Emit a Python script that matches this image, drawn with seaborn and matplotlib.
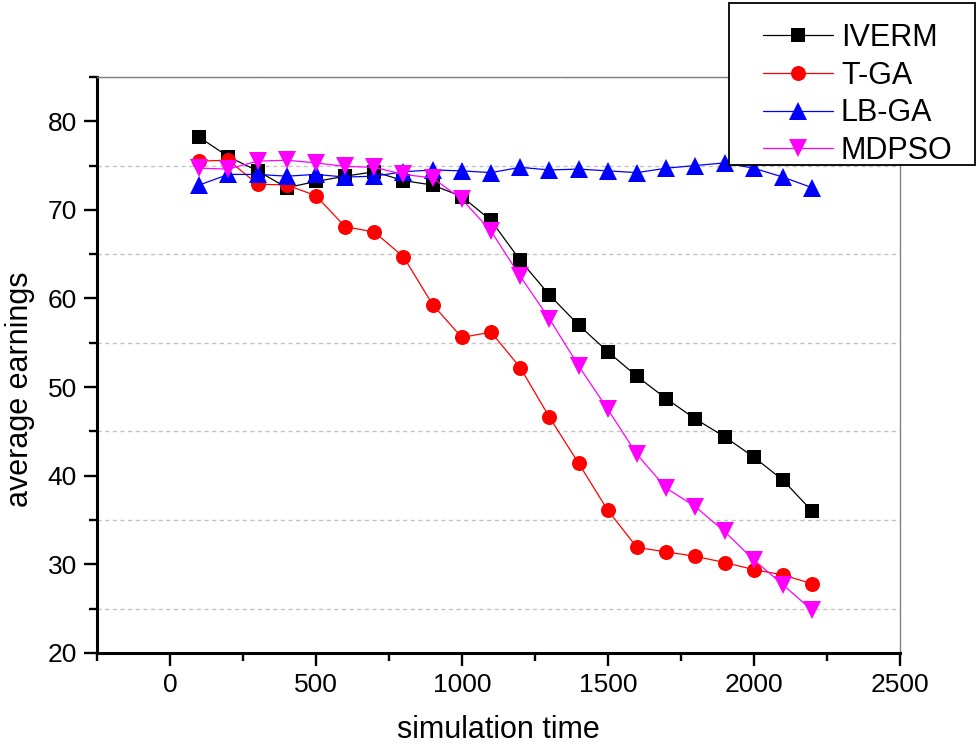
import numpy as np
import pandas as pd
import matplotlib
matplotlib.use('Agg')
import matplotlib.pyplot as plt
from matplotlib.patches import Rectangle
from matplotlib.ticker import MultipleLocator, FixedLocator
import seaborn as sns

# data
sim_time = [100, 200, 300, 400, 500, 600, 700, 800, 900, 1000, 1100,
            1200, 1300, 1400, 1500, 1600, 1700, 1800, 1900, 2000, 2100, 2200]

iverm = [78.2, 76.0, 74.4, 72.5, 73.2, 73.8, 74.3, 73.3, 72.8, 71.5, 68.8,
         64.3, 60.4, 57.0, 54.0, 51.2, 48.7, 46.4, 44.4, 42.1, 39.5, 36.0]
t_ga = [75.5, 75.6, 72.9, 72.8, 71.6, 68.1, 67.5, 64.7, 59.3, 55.6, 56.2,
        52.2, 46.6, 41.4, 36.1, 31.9, 31.4, 30.9, 30.2, 29.4, 28.8, 27.8]
lb_ga = [72.8, 74.0, 74.0, 73.8, 74.0, 73.7, 73.8, 74.3, 74.5, 74.4, 74.2,
         74.8, 74.5, 74.6, 74.4, 74.2, 74.7, 75.0, 75.3, 74.7, 73.7, 72.5]
mdpso = [74.7, 74.6, 75.5, 75.6, 75.3, 74.9, 74.8, 74.0, 73.6, 71.2, 67.6,
         62.5, 57.7, 52.4, 47.5, 42.4, 38.6, 36.5, 33.7, 30.5, 27.7, 24.8]

names = ['IVERM', 'T-GA', 'LB-GA', 'MDPSO']
colors = {'IVERM': 'black', 'T-GA': 'red', 'LB-GA': 'blue', 'MDPSO': 'magenta'}
markers = {'IVERM': 's', 'T-GA': 'o', 'LB-GA': '^', 'MDPSO': 'v'}
sizes = {'IVERM': 10.5, 'T-GA': 10.8, 'LB-GA': 13, 'MDPSO': 13}

df = pd.DataFrame({
    'time': sim_time * 4,
    'earn': iverm + t_ga + lb_ga + mdpso,
    'method': np.repeat(names, len(sim_time)),
})

sns.set_style('white')
plt.rcParams['font.family'] = ['Liberation Sans', 'DejaVu Sans']
plt.rcParams['text.color'] = 'black'
plt.rcParams['axes.labelcolor'] = 'black'
plt.rcParams['xtick.color'] = 'black'
plt.rcParams['ytick.color'] = 'black'

fig = plt.figure(figsize=(9.8, 7.47), dpi=100)
ax = fig.add_axes([0.099, 0.126, 0.819, 0.771])

for name in names:
    sub = df[df['method'] == name]
    sns.lineplot(data=sub, x='time', y='earn', ax=ax, color=colors[name],
                 marker=markers[name], markersize=sizes[name],
                 markeredgewidth=0, linewidth=0.9, label=name)

ax.set_xlim(-250, 2500)
ax.set_ylim(20, 85)
ax.xaxis.set_major_locator(MultipleLocator(500))
ax.xaxis.set_minor_locator(MultipleLocator(250))
ax.yaxis.set_major_locator(MultipleLocator(10))
ax.yaxis.set_minor_locator(FixedLocator([25, 35, 45, 55, 65, 75, 85]))

ax.tick_params(axis='both', which='major', direction='out', length=9.5, width=1.7,
               labelsize=19, colors='black', bottom=True, left=True, pad=5)
ax.tick_params(axis='both', which='minor', direction='out', length=5.5, width=1.7,
               colors='black', bottom=True, left=True)

ax.grid(False)
ax.yaxis.grid(True, which='minor', linestyle=(0, (3, 2.5)), color='#c4c4c4', linewidth=1)

for side in ['left', 'bottom']:
    ax.spines[side].set_color('black')
    ax.spines[side].set_linewidth(2.2)
for side in ['top', 'right']:
    ax.spines[side].set_color('#808080')
    ax.spines[side].set_linewidth(1)

ax.set_xlabel('simulation time', fontsize=22, labelpad=13)
ax.set_ylabel('average earnings', fontsize=22)
ax.yaxis.set_label_coords(-0.0775, 0.457)

# legend: frame drawn separately, entries placed inside it
handles, labels = ax.get_legend_handles_labels()
ax.legend().remove()
fig.patches.append(Rectangle((729 / 980, 1 - 165 / 747), 246 / 980, 162 / 747,
                             transform=fig.transFigure, facecolor='white',
                             edgecolor='black', linewidth=1.3, zorder=5))
leg = fig.legend(handles, labels, loc='upper left',
                 bbox_to_anchor=(763 / 980, 1 - 23 / 747), borderaxespad=0,
                 borderpad=0, fontsize=22, frameon=False,
                 handlelength=2.3, handletextpad=0.25, labelspacing=0.25,
                 markerscale=1.0)
leg.set_zorder(6)

fig.savefig('out.png', dpi=100)
